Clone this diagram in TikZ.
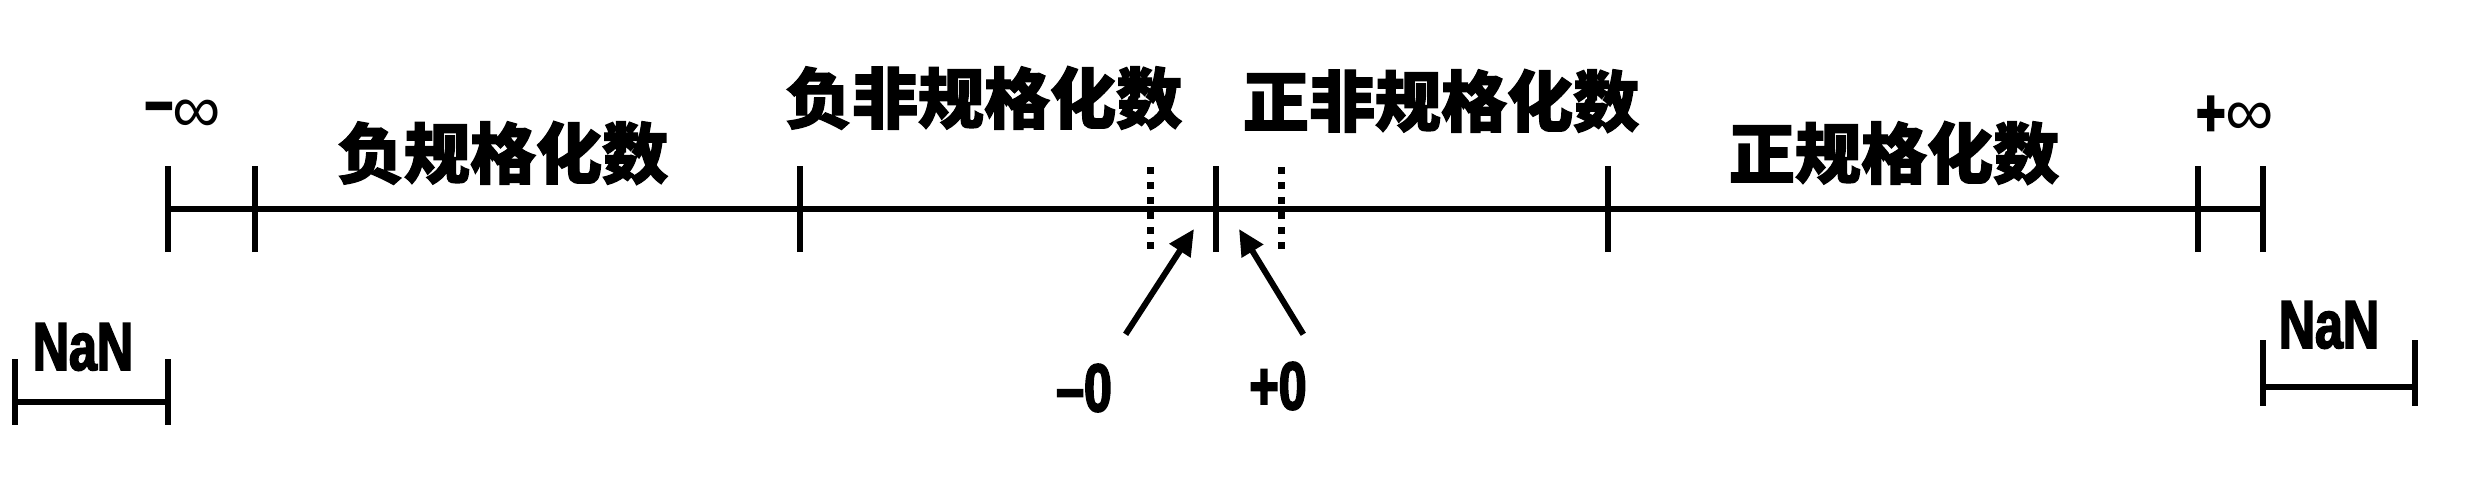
\documentclass[tikz,border=0pt]{standalone}
\usepackage{fontspec}
\setmainfont{Liberation Sans}
\newfontfamily\cjkfont[BoldFeatures={FakeBold=2}]{Noto Sans CJK SC}
\newfontfamily\narrowfont[FakeStretch=0.74,FakeBold=2.5]{Liberation Sans Bold}
\usetikzlibrary{arrows.meta}

\begin{document}
\begin{tikzpicture}[x=0.1mm,y=0.1mm,>={Triangle[length=2.6mm,width=2.4mm]},
    axis/.style={line width=0.6mm},
    tickline/.style={line width=0.6mm},
    dotline/.style={line width=0.7mm,dash pattern=on 0.7mm off 0.8mm},
    ptr/.style={->,line width=0.6mm},
    zh/.style={inner sep=0pt,font=\cjkfont\bfseries\fontsize{18.8pt}{20pt}\selectfont},
    lat/.style={inner sep=0pt,font=\narrowfont\fontsize{19.3pt}{20pt}\selectfont}]
  \useasboundingbox (0,0) rectangle (2466,478);

  % number line
  \coordinate (ninf) at (168,269);
  \coordinate (nmax) at (255,269);
  \coordinate (nmin) at (800,269);
  \coordinate (zero) at (1216,269);
  \coordinate (pmin) at (1608,269);
  \coordinate (pmax) at (2198,269);
  \coordinate (pinf) at (2263,269);
  \draw[axis] (ninf) -- (pinf);
  \foreach \p in {ninf,nmax,nmin,zero,pmin,pmax,pinf}
    \draw[tickline] (\p) ++(0,-43) -- ++(0,86);
  \draw[dotline] (1150,311) -- (1150,228);
  \draw[dotline] (1281,311) -- (1281,228);

  % ranges
  \node[lat] (minf) at (183,362) {\raisebox{.12em}{–}{\rmfamily ∞}};
  \node[zh] (nnorm) at (503,325) {负规格化数};
  \node[zh] (nsub) at (984,380) {负非规格化数};
  \node[zh] (psub) at (1441,377) {正非规格化数};
  \node[zh] (pnorm) at (1894,325) {正规格化数};
  \node[lat] (pinfl) at (2235,362) {+{\rmfamily ∞}};

  % signed zeros
  \node[lat] (mzero) at (1084,90) {–0};
  \node[lat] (pzero) at (1278,92) {+0};
  \coordinate (mtip) at (1194,249);
  \coordinate (ptip) at (1239,249);
  \draw[ptr] ([shift={(13,29)}]mzero.north east) -- (mtip);
  \draw[ptr] ([shift={(-4,27)}]pzero.north east) -- (ptip);

  % NaN
  \node[lat] (lnan) at (83,131) {NaN};
  \draw[tickline] (15,119) -- (15,53) (168,119) -- (168,53);
  \draw[axis] (15,76) -- (168,76);
  \node[lat] (rnan) at (2329,153) {NaN};
  \draw[tickline] (2263,138) -- (2263,72) (2415,138) -- (2415,72);
  \draw[axis] (2263,91) -- (2415,91);
\end{tikzpicture}
\end{document}
